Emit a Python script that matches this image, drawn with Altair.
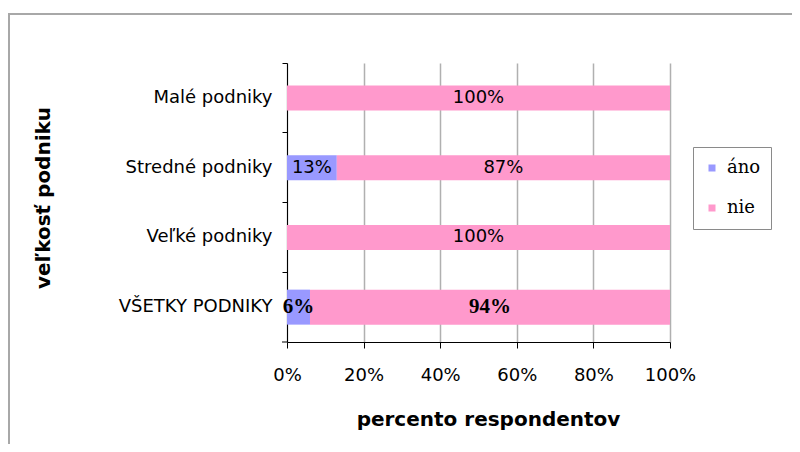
import altair as alt
import pandas as pd

categories = ["Malé podniky", "Stredné podniky", "Veľké podniky", "VŠETKY PODNIKY"]
series = ["áno", "nie"]
ano_values = [0, 13, 0, 6]
nie_values = [100, 87, 100, 94]
x_ticks = [0, 20, 40, 60, 80, 100]
total_label = "VŠETKY PODNIKY"

rows = []
for i, cat in enumerate(categories):
    for j, (name, vals) in enumerate(zip(series, [ano_values, nie_values])):
        rows.append({"kategoria": cat, "odpoved": name, "hodnota": vals[i], "poradie": j})
df = pd.DataFrame(rows)

X_TITLE = "percento respondentov"

y_enc = alt.Y(
    "kategoria:N",
    sort=categories,
    scale=alt.Scale(paddingInner=0, paddingOuter=0),
    axis=alt.Axis(
        title="veľkosť podniku",
        titleFont="DejaVu Sans",
        titleFontSize=20,
        titleFontWeight="bold",
        titleColor="black",
        titleAngle=270,
        titleX=-234,
        titleY=134.5,
        titleBaseline="bottom",
        labelFont="DejaVu Sans",
        labelFontSize=18,
        labelColor="black",
        labelPadding=10,
        tickSize=5,
        tickColor="black",
        bandPosition=0,
        domainColor="black",
        grid=False,
    ),
)

x_axis = alt.Axis(
    values=x_ticks,
    labelExpr="datum.value + '%'",
    labelFont="DejaVu Sans",
    labelFontSize=18,
    labelColor="black",
    labelPadding=18,
    labelFlush=False,
    labelOverlap=False,
    tickSize=6,
    tickColor="black",
    domainColor="black",
    grid=True,
    gridColor="#b0b0b0",
    gridWidth=1.5,
    title=X_TITLE,
    titleFont="DejaVu Sans",
    titleFontSize=20,
    titleFontWeight="bold",
    titleColor="black",
    titleX=201,
    titleY=67,
    titleBaseline="top",
)

base = alt.Chart(df)

bars = base.mark_bar().encode(
    y=y_enc,
    x=alt.X("hodnota:Q", stack="zero", scale=alt.Scale(domain=[0, 100], nice=False), axis=x_axis, title=X_TITLE),
    color=alt.Color(
        "odpoved:N",
        scale=alt.Scale(domain=series, range=["#9999FF", "#FF99CC"]),
        legend=alt.Legend(
            title=None,
            orient="none",
            legendX=406,
            legendY=84,
            symbolType="square",
            symbolSize=49,
            symbolStrokeWidth=0,
            labelFont="DejaVu Serif",
            labelFontSize=18,
            labelColor="black",
            labelOffset=6,
            clipHeight=22,
            rowPadding=18,
            padding=10,
            strokeColor="#8a8a8a",
        ),
    ),
    order=alt.Order("poradie:Q"),
    size=alt.condition(f"datum.kategoria === '{total_label}'", alt.value(35), alt.value(25)),
)

stacked = base.transform_stack(
    stack="hodnota",
    groupby=["kategoria"],
    as_=["x0", "x1"],
    sort=[alt.SortField("poradie", order="ascending")],
).transform_calculate(
    mid="(datum.x0 + datum.x1) / 2",
    label="datum.hodnota + '%'",
)

text_normal = stacked.transform_filter(
    f"datum.hodnota > 0 && datum.kategoria !== '{total_label}'"
).mark_text(font="DejaVu Sans", fontSize=18, color="black", baseline="middle").encode(
    x=alt.X("mid:Q", title=X_TITLE),
    y=alt.Y("kategoria:N", sort=categories),
    text="label:N",
)

text_total = stacked.transform_filter(
    f"datum.hodnota > 0 && datum.kategoria === '{total_label}'"
).mark_text(font="Liberation Serif", fontSize=21, fontWeight="bold", color="black", baseline="middle").encode(
    x=alt.X("mid:Q", title=X_TITLE),
    y=alt.Y("kategoria:N", sort=categories),
    text="label:N",
)

frame_df = pd.DataFrame({"f": [0]})
frame = alt.Chart(frame_df).mark_rect(filled=False, stroke="#a8a8a8", strokeWidth=2).encode(
    x=alt.value(-278), x2=alt.value(700), y=alt.value(-49), y2=alt.value(700)
)
last_tick = alt.Chart(frame_df).mark_rule(color="black", strokeWidth=1).encode(
    x=alt.value(-5), x2=alt.value(0), y=alt.value(279)
)

chart = alt.layer(frame, bars, text_normal, text_total, last_tick).properties(
    width=383,
    height=279,
    autosize=alt.AutoSizeParams(type="none"),
    padding={"left": 279, "top": 55, "right": 122, "bottom": 102},
    background="white",
).configure_view(stroke=None)

chart.save("out.html", embed_options={"renderer": "svg", "actions": False})
